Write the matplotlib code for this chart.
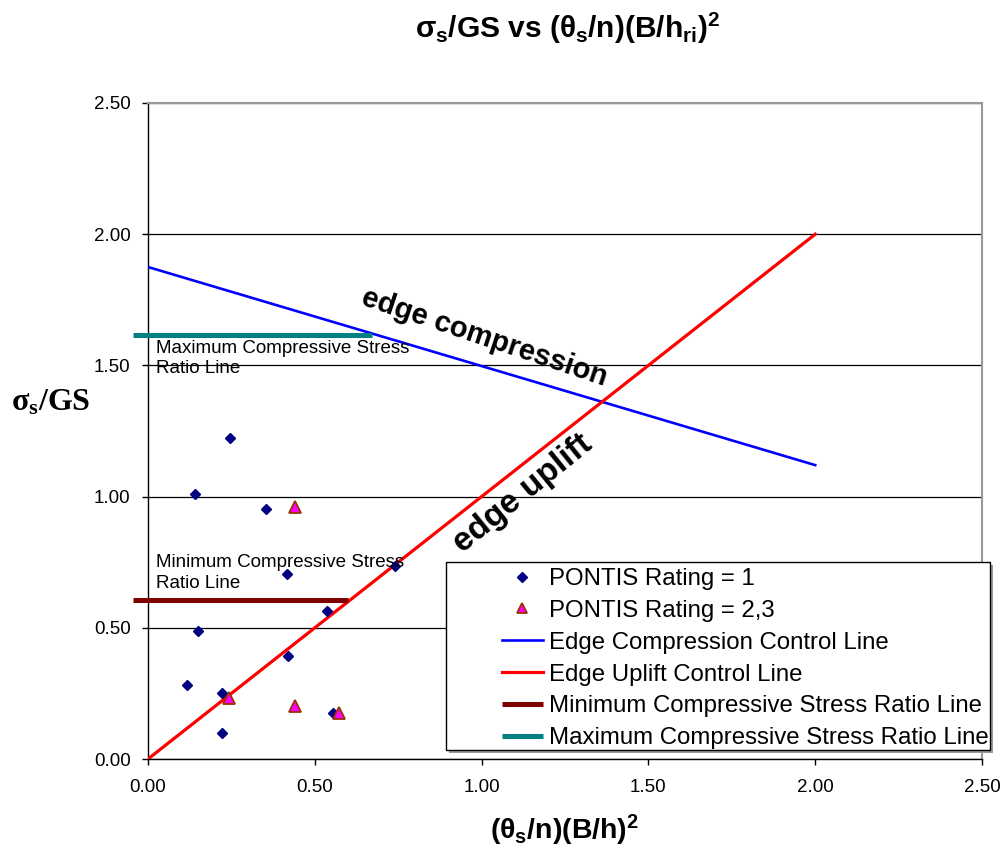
import matplotlib
matplotlib.use('Agg')
from matplotlib import pyplot as plt
from matplotlib.patches import Rectangle

plt.rcParams['font.family'] = ['Liberation Sans', 'DejaVu Sans']
plt.rcParams['mathtext.fontset'] = 'custom'
plt.rcParams['mathtext.rm'] = 'Liberation Sans:bold'
plt.rcParams['mathtext.it'] = 'Liberation Sans:bold'
plt.rcParams['mathtext.bf'] = 'Liberation Sans:bold'
plt.rcParams['mathtext.sf'] = 'Liberation Serif:bold'

# PONTIS rating = 1 (diamonds)
r1_x = [0.245, 0.141, 0.353, 0.416, 0.740, 0.537, 0.149, 0.421, 0.117, 0.222, 0.222, 0.555]
r1_y = [1.224, 1.011, 0.954, 0.706, 0.737, 0.565, 0.488, 0.394, 0.281, 0.250, 0.100, 0.176]
# PONTIS rating = 2,3 (triangles)
r23_x = [0.441, 0.243, 0.441, 0.574]
r23_y = [0.959, 0.234, 0.203, 0.175]

# control lines
comp_x = [0.0, 2.0]
comp_y = [1.875, 1.12]
uplift_x = [0.0, 2.0]
uplift_y = [0.0, 2.0]
min_x = [-0.045, 0.60]
min_y = [0.607, 0.607]
max_x = [-0.045, 0.67]
max_y = [1.616, 1.616]

ticks = [0.0, 0.5, 1.0, 1.5, 2.0, 2.5]
tick_labels = ['0.00', '0.50', '1.00', '1.50', '2.00', '2.50']

fig = plt.figure(figsize=(10.01, 8.57), dpi=100)
ax = fig.add_axes([148/1001, 1 - 759/857, (982-148)/1001, (759-103)/857])

ax.plot(r1_x, r1_y, 'D', color='#000080', ms=5.6, ls='none', label='PONTIS Rating = 1', zorder=4)
ax.plot(r23_x, r23_y, '^', mfc='#FF00FF', mec='#993300', mew=1.3, ms=8, ls='none',
        label='PONTIS Rating = 2,3', zorder=4)
ax.plot(comp_x, comp_y, color='#0000FF', lw=1.9, label='Edge Compression Control Line', zorder=3)
ax.plot(uplift_x, uplift_y, color='#FF0000', lw=2.3, label='Edge Uplift Control Line', zorder=3)
ax.plot(min_x, min_y, color='#800000', lw=3.6, label='Minimum Compressive Stress Ratio Line',
        zorder=3, clip_on=False, solid_capstyle='butt')
ax.plot(max_x, max_y, color='#008080', lw=3.6, label='Maximum Compressive Stress Ratio Line',
        zorder=3, clip_on=False, solid_capstyle='butt')

ax.set_xlim(0, 2.5)
ax.set_ylim(0, 2.5)
ax.set_xticks(ticks)
ax.set_xticklabels(tick_labels)
ax.set_yticks(ticks)
ax.set_yticklabels(tick_labels)
ax.tick_params(axis='both', direction='out', length=4.5, width=1, labelsize=13.5, color='black')
ax.tick_params(axis='y', pad=8)
ax.tick_params(axis='x', pad=10)
ax.yaxis.grid(True, color='black', lw=0.9)
ax.set_axisbelow(True)
for s in ['top', 'right']:
    ax.spines[s].set_color('#999999')
    ax.spines[s].set_linewidth(1.5)
for s in ['left', 'bottom']:
    ax.spines[s].set_color('black')
    ax.spines[s].set_linewidth(1)

ax.text(0.024, 1.598, 'Maximum Compressive Stress\nRatio Line', fontsize=13.5, va='top', ha='left',
        linespacing=1.25, zorder=5)
ax.text(0.024, 0.78, 'Minimum Compressive Stress\nRatio Line', fontsize=13.5, va='top', ha='left',
        linespacing=1.25, zorder=5)
ax.text(1.009, 1.608, 'edge compression', fontsize=21, fontweight='bold', rotation=-18.5,
        ha='center', va='center', rotation_mode='anchor', zorder=5)
ax.text(1.125, 1.01, 'edge uplift', fontsize=24, fontweight='bold', rotation=39,
        ha='center', va='center', rotation_mode='anchor', zorder=5)

fig.text(0.567, 1 - 28/857, r'$\sigma_s$/GS vs ($\theta_s$/n)(B/$h_{ri})^2$', fontsize=21.5,
         fontweight='bold', ha='center', va='center')
fig.text(565/1001, 1 - 830/857, r'($\theta_s$/n)(B/$h)^2$', fontsize=20.5, fontweight='bold',
         ha='center', va='center')
fig.text(51/1001, 1 - 403/857, r'$\mathsf{\sigma_s}$/GS', fontsize=23, fontweight='bold',
         family='Liberation Serif', ha='center', va='center')

# legend frame with shadow
fig.patches.append(Rectangle(((446+3)/1001, 1 - (750+3)/857), (990-446)/1001, (750-562)/857,
                             transform=fig.transFigure, facecolor='#999999', edgecolor='none', zorder=1.8))
fig.patches.append(Rectangle((446/1001, 1 - 750/857), (990-446)/1001, (750-562)/857,
                             transform=fig.transFigure, facecolor='white', edgecolor='black', lw=1, zorder=1.9))
h, l = ax.get_legend_handles_labels()
leg = fig.legend(h, l, loc='upper left', bbox_to_anchor=(502/1001, 1 - 568/857), frameon=False,
                 fontsize=17.3, borderpad=0, borderaxespad=0, handlelength=1.7, handletextpad=0.25,
                 labelspacing=0.41, markerscale=0.85)
leg.set_zorder(3)

fig.savefig('out.png', dpi=100)
